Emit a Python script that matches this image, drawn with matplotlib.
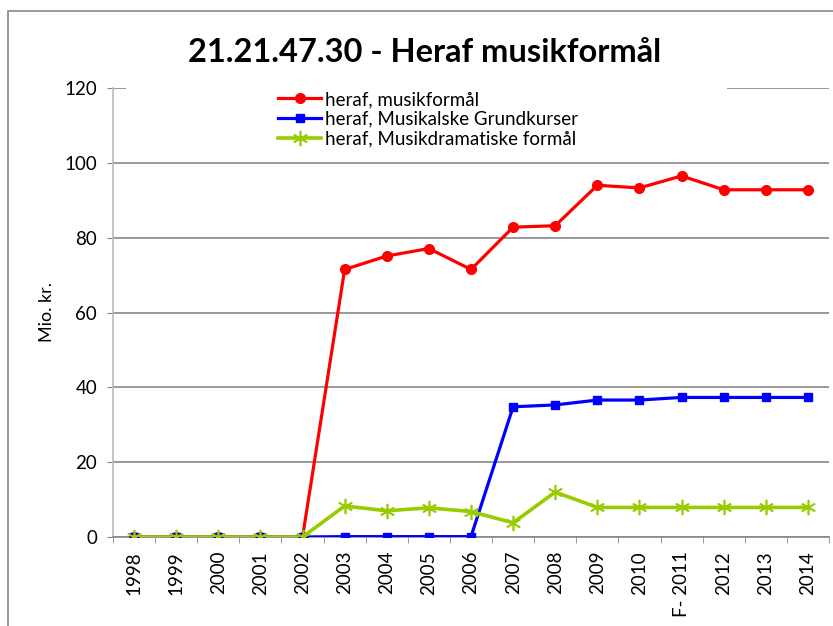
import matplotlib
matplotlib.use("Agg")
import matplotlib.pyplot as plt
from matplotlib.patches import Rectangle

plt.rcParams['font.family'] = ['Lato', 'DejaVu Sans']

years = ["1998", "1999", "2000", "2001", "2002", "2003", "2004", "2005", "2006",
         "2007", "2008", "2009", "2010", "F- 2011", "2012", "2013", "2014"]
musik = [0, 0, 0, 0, 0, 71.5, 75.1, 77.1, 71.5, 82.8, 83.2, 94.0, 93.3, 96.5, 92.8, 92.8, 92.8]
grundkurser = [0, 0, 0, 0, 0, 0.1, 0.1, 0.1, 0.1, 34.8, 35.3, 36.6, 36.6, 37.3, 37.3, 37.3, 37.3]
dramatisk = [0, 0, 0, 0, 0, 8.3, 7.0, 7.8, 6.8, 3.8, 12.0, 7.9, 7.9, 7.9, 7.9, 7.9, 7.9]
labels = ["heraf, musikformål", "heraf, Musikalske Grundkurser", "heraf, Musikdramatiske formål"]
yticks = [0, 20, 40, 60, 80, 100, 120]

fig = plt.figure(figsize=(8.33, 6.26), dpi=100)
ax = fig.add_axes([113/833, 1-537/626, (829-113)/833, (537-88)/626])

x = list(range(len(years)))
ax.plot(x, musik, color="#FF0000", lw=2.3, marker="o", ms=7, label=labels[0], zorder=3)
ax.plot(x, grundkurser, color="#0000FF", lw=2.3, marker="s", ms=6, label=labels[1], zorder=4)
ax.plot(x, dramatisk, color="#99CC00", lw=2.6, marker=(6, 2, 0), ms=11, mew=1.2,
        label=labels[2], zorder=5)

ax.set_xlim(-0.5, len(years) - 0.5)
ax.set_ylim(0, 120)
ax.set_yticks(yticks)
ax.set_yticklabels([str(v) for v in yticks], fontsize=13.5)
ax.set_xticks(x)
ax.set_xticklabels(years, rotation=90, fontsize=13.5)
ax.tick_params(axis='x', length=0, pad=10)
ax.set_xticks([i - 0.5 for i in range(len(years) + 1)], minor=True)
ax.tick_params(axis='x', which='minor', length=4.5, color="#888888", direction='out')
ax.tick_params(axis='y', length=4.5, color="#888888", direction='out', pad=7)

ax.grid(axis='y', color="#888888", lw=1.2, zorder=0)
ax.set_axisbelow(True)
for s in ['top', 'right']:
    ax.spines[s].set_visible(False)
ax.spines['left'].set_color("#BBBBBB")
ax.spines['left'].set_linewidth(1.2)
ax.spines['bottom'].set_color("#888888")
ax.spines['bottom'].set_linewidth(1.2)

ax.set_ylabel("Mio. kr.", fontsize=13, labelpad=7)

# white area covering top gridline behind legend
ax.add_patch(Rectangle((13/716, 0.985), (727-126)/716, 0.03, transform=ax.transAxes,
                       facecolor="white", edgecolor="none", zorder=1, clip_on=False))

leg = ax.legend(loc="upper left", bbox_to_anchor=(0.22, 1.01), frameon=False,
                fontsize=13.5, handlelength=2.3, handletextpad=0.2, labelspacing=0.15,
                borderaxespad=0)

fig.text(425/833, 1-52/626, "21.21.47.30 - Heraf musikformål", ha="center", va="center",
         fontsize=23.5, fontweight="bold")

fig.patches.append(Rectangle((8/833, -0.02), 1.02, 1-11/626+0.02, transform=fig.transFigure,
                             facecolor="none", edgecolor="#888888", lw=1.2))

fig.savefig("out.png", dpi=100)
